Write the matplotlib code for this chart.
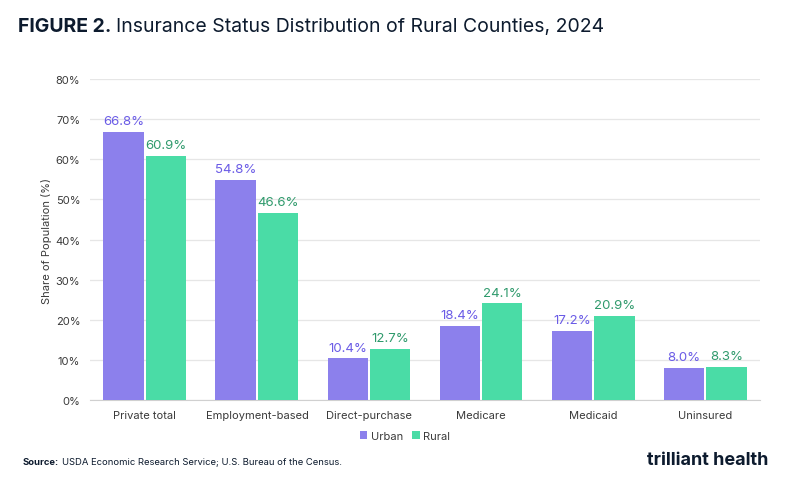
import matplotlib.pyplot as plt
import numpy as np

categories = ['Private total', 'Employment-based', 'Direct-purchase',
              'Medicare', 'Medicaid', 'Uninsured']
urban = [66.8, 54.8, 10.4, 18.4, 17.2, 8.0]
rural = [60.9, 46.6, 12.7, 24.1, 20.9, 8.3]
yticks = [0, 10, 20, 30, 40, 50, 60, 70, 80]

c_urban = '#8c80ec'
c_rural = '#4adca6'
t_urban = '#6a5be6'
t_rural = '#2f9a6c'
navy = '#0d1b2e'
gray = '#3a3a3a'

plt.rcParams['font.family'] = ['Inter', 'DejaVu Sans']

fig = plt.figure(figsize=(8, 4.85), dpi=100)
ax = fig.add_axes([0.1125, 0.173, 0.8375, 0.662])

x = np.arange(len(categories))
w = 0.36
b1 = ax.bar(x - w / 2 - 0.01, urban, w, color=c_urban, label='Urban', zorder=3)
b2 = ax.bar(x + w / 2 + 0.01, rural, w, color=c_rural, label='Rural', zorder=3)

for rect, v in zip(b1, urban):
    ax.text(rect.get_x() + rect.get_width() / 2, v + 1.2, f'{v:.1f}%',
            ha='center', va='bottom', color=t_urban, fontsize=9.5)
for rect, v in zip(b2, rural):
    ax.text(rect.get_x() + rect.get_width() / 2, v + 1.2, f'{v:.1f}%',
            ha='center', va='bottom', color=t_rural, fontsize=9.5)

ax.set_xlim(-0.49, 5.49)
ax.set_ylim(0, 80)
ax.set_yticks(yticks)
ax.set_yticklabels([f'{t}%' for t in yticks])
ax.set_xticks(x)
ax.set_xticklabels(categories)
ax.tick_params(axis='both', length=0, labelsize=8, colors=gray)
ax.tick_params(axis='x', pad=7)
ax.tick_params(axis='y', pad=7)
ax.grid(axis='y', color='#e6e6e6', linewidth=0.9, zorder=0)
for s in ['top', 'right', 'left']:
    ax.spines[s].set_visible(False)
ax.spines['bottom'].set_color('#d0d0d0')
ax.set_ylabel('Share of Population (%)', fontsize=8, color=gray)
ax.yaxis.set_label_coords(-0.057, 0.5)

ax.legend(loc='upper center', bbox_to_anchor=(0.47, -0.065), ncol=2,
          frameon=False, fontsize=8, handlelength=0.7, handleheight=0.7,
          handletextpad=0.3, columnspacing=0.8, labelcolor=gray)

t1 = fig.text(0.0225, 0.945, 'FIGURE 2.', fontsize=14, color=navy,
              fontweight='bold', ha='left', va='center')
fig.canvas.draw()
bb = t1.get_window_extent()
fig.text(bb.x1 / fig.bbox.width + 0.006, 0.945,
         'Insurance Status Distribution of Rural Counties, 2024',
         fontsize=14, color=navy, ha='left', va='center')

s1 = fig.text(0.028, 0.047, 'Source:', fontsize=6.8, color=navy,
              fontweight='bold', ha='left', va='center')
fig.canvas.draw()
bb = s1.get_window_extent()
fig.text(bb.x1 / fig.bbox.width + 0.004, 0.047,
         'USDA Economic Research Service; U.S. Bureau of the Census.',
         fontsize=6.8, color=navy, ha='left', va='center')

fig.text(0.96, 0.05, 'trilliant health', fontsize=13, color=navy,
         fontweight='bold', ha='right', va='center')

fig.savefig('out.png', dpi=100)
